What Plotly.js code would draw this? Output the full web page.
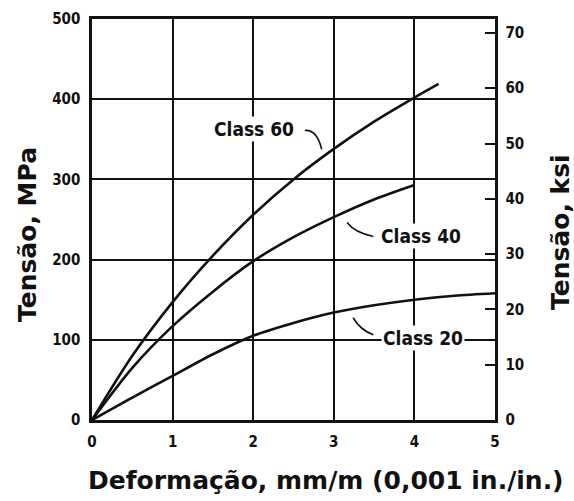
<!DOCTYPE html>
<html>
<head>
<meta charset="utf-8">
<script src="https://cdn.plot.ly/plotly-3.0.1.min.js"></script>
<style>html,body{margin:0;padding:0;background:#fff;}#chart{width:574px;height:501px;}</style>
</head>
<body>
<div id="chart"></div>
<script>
// Strain (mm/m) and stress (MPa)
const class60X = [0, 0.5, 1, 1.5, 2, 2.5, 3, 3.5, 4, 4.3];
const class60Y = [0, 80, 147, 205, 256, 300, 338, 372, 402, 419];
const class40X = [0, 0.5, 1, 1.5, 2, 2.5, 3, 3.5, 4];
const class40Y = [0, 65, 117, 160, 198, 228, 253, 275, 293];
const class20X = [0, 0.5, 1, 1.5, 2, 2.5, 3, 3.5, 4, 4.5, 5];
const class20Y = [0, 28, 55, 82, 105, 121, 134, 143, 150, 155, 158];
const seriesNames = ["Class 60", "Class 40", "Class 20"];
const xTicks = [0, 1, 2, 3, 4, 5];
const yTicks = [0, 100, 200, 300, 400, 500];
const ksiTicks = [0, 10, 20, 30, 40, 50, 60, 70];
const MPA_PER_KSI = 6.895;

const tickFont = {family: "DejaVu Sans Condensed, DejaVu Sans", size: 15, color: "#111", weight: "bold"};
const titleFont = {family: "DejaVu Sans, sans-serif", size: 25, color: "#111", weight: "bold"};
const labelFont = {family: "DejaVu Sans Condensed, DejaVu Sans", size: 19, color: "#111", weight: "bold"};

const lineStyle = {color: "#111", width: 2.6, shape: "spline", smoothing: 0.8};
const traces = [
  {x: class60X, y: class60Y, name: seriesNames[0], mode: "lines", line: lineStyle, hoverinfo: "skip"},
  {x: class40X, y: class40Y, name: seriesNames[1], mode: "lines", line: lineStyle, hoverinfo: "skip"},
  {x: class20X, y: class20Y, name: seriesNames[2], mode: "lines", line: lineStyle, hoverinfo: "skip"},
  {x: [null], y: [null], yaxis: "y2", mode: "lines", showlegend: false, hoverinfo: "skip"}
];

const layout = {
  width: 574, height: 501,
  margin: {l: 92, r: 79, t: 19, b: 81},
  paper_bgcolor: "#fff", plot_bgcolor: "#fff",
  showlegend: false,
  xaxis: {
    range: [0, 5], tickvals: xTicks, ticktext: xTicks.map(String),
    showgrid: true, gridcolor: "#111", gridwidth: 2,
    zeroline: false, showline: true, mirror: true, linecolor: "#111", linewidth: 2.6,
    ticks: "", tickfont: tickFont, ticklabelstandoff: 6
  },
  yaxis: {
    range: [0, 500], tickvals: yTicks, ticktext: yTicks.map(String),
    showgrid: true, gridcolor: "#111", gridwidth: 2,
    zeroline: false, showline: true, mirror: true, linecolor: "#111", linewidth: 2.6,
    ticks: "", tickfont: tickFont, ticklabelstandoff: 6
  },
  yaxis2: {
    overlaying: "y", side: "right",
    range: [0, 500 / MPA_PER_KSI], tickvals: ksiTicks,
    ticktext: ksiTicks.map(v => "\u00a0\u00a0" + v),
    showgrid: false, zeroline: false, showline: false,
    ticks: "inside", ticklen: 10, tickwidth: 2, tickcolor: "#111",
    tickfont: tickFont
  },
  annotations: [
    {text: "Deformação, mm/m (0,001 in./in.)", xref: "paper", yref: "paper",
     x: (326 - 92) / 403, y: (420 - 480) / 401, showarrow: false, font: titleFont,
     xanchor: "center", yanchor: "middle"},
    {text: "Tensão, MPa", xref: "paper", yref: "paper",
     x: (27 - 92) / 403, y: (420 - 235) / 401, showarrow: false, font: titleFont,
     textangle: -90, xanchor: "center", yanchor: "middle"},
    {text: "Tensão, ksi", xref: "paper", yref: "paper",
     x: (560 - 92) / 403, y: (420 - 232) / 401, showarrow: false, font: titleFont,
     textangle: -90, xanchor: "center", yanchor: "middle"},
    {text: seriesNames[0], x: 2.01, y: 362.5, xref: "x", yref: "y", showarrow: false,
     font: labelFont, bgcolor: "#fff", borderpad: 1},
    {text: seriesNames[1], x: 4.08, y: 229, xref: "x", yref: "y", showarrow: false,
     font: labelFont, bgcolor: "#fff", borderpad: 1},
    {text: seriesNames[2], x: 4.11, y: 102.5, xref: "x", yref: "y", showarrow: false,
     font: labelFont, bgcolor: "#fff", borderpad: 1}
  ],
  shapes: [
    {type: "path", xref: "x", yref: "y", path: "M 2.64 361 Q 2.79 362.5 2.85 337.5",
     line: {color: "#111", width: 1.6}},
    {type: "path", xref: "x", yref: "y", path: "M 3.164 246.25 Q 3.26 233.75 3.49 228.75",
     line: {color: "#111", width: 1.6}},
    {type: "path", xref: "x", yref: "y", path: "M 3.24 127.5 Q 3.325 112.5 3.49 106.25",
     line: {color: "#111", width: 1.6}}
  ]
};

Plotly.newPlot("chart", traces, layout, {staticPlot: true, displayModeBar: false});
</script>
</body>
</html>
